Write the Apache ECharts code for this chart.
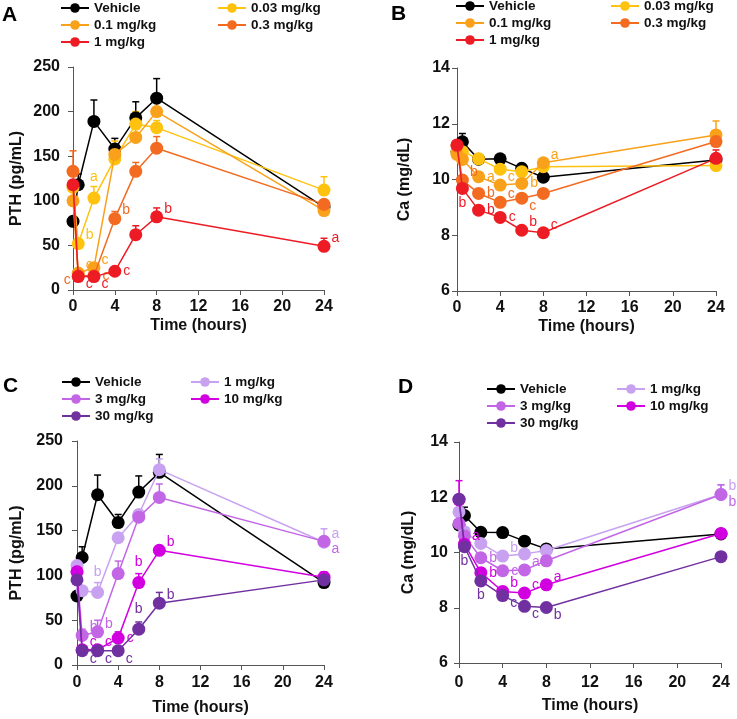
<!DOCTYPE html>
<html><head><meta charset="utf-8">
<script src="https://cdn.jsdelivr.net/npm/echarts@6/dist/echarts.min.js"></script>
<style>html,body{margin:0;padding:0;background:#fff}#c{width:737px;height:719px}</style>
</head><body><div id="c"></div>
<script>
// ---------- DATA ----------
const times = [0, 0.5, 2, 4, 6, 8, 24];

// Panel A: PTH (pg/mL), low doses
const aNames = ['Vehicle', '0.03 mg/kg', '0.1 mg/kg', '0.3 mg/kg', '1 mg/kg'];
const aVehicle = [77, 118, 189, 158, 193, 215, 93];
const aVehicleErr = [0, 12, 24, 12, 18, 22, 4];
const a003 = [115, 52, 103, 147, 186, 182, 112];
const a003Err = [0, 5, 13, 20, 14, 8, 15];
const a01 = [100, 19, 25, 152, 171, 200, 89];
const a01Err = [0, 3, 4, 8, 10, 10, 5];
const a03 = [133, 16, 16, 80, 133, 159, 96];
const a03Err = [23, 2, 2, 8, 10, 13, 5];
const a1 = [118, 15, 15, 21, 62, 82, 49];
const a1Err = [5, 2, 2, 4, 10, 10, 9];
const aVehicleL = ['', '', '', '', '', '', ''];
const a003L = ['', 'b', 'a', '', '', '', ''];
const a01L = ['', 'c', 'c', '', '', '', ''];
const a03L = ['', 'c', 'c', 'b', '', '', ''];
const a1L = ['', 'c', 'c', 'c', '', 'b', 'a'];

// Panel B: Ca (mg/dL), low doses
const bVehicle = [11.0, 11.35, 10.73, 10.74, 10.40, 10.08, 10.7];
const bVehicleErr = [0.1, 0.3, 0.05, 0.05, 0.05, 0.05, 0.1];
const b003 = [11.0, 11.0, 10.74, 10.37, 10.28, 10.46, 10.5];
const b003Err = [0.1, 0.1, 0.05, 0.1, 0.1, 0.1, 0.1];
const b01 = [10.9, 10.72, 10.1, 9.8, 9.86, 10.6, 11.6];
const b01Err = [0.1, 0.1, 0.1, 0.1, 0.1, 0.15, 0.5];
const b03 = [11.2, 9.98, 9.5, 9.18, 9.33, 9.5, 11.36];
const b03Err = [0.1, 0.1, 0.1, 0.1, 0.1, 0.1, 0.2];
const b1 = [11.24, 9.68, 8.9, 8.64, 8.18, 8.09, 10.76];
const b1Err = [0.1, 0.1, 0.1, 0.1, 0.1, 0.1, 0.3];
const bVehicleL = ['', '', '', '', '', '', ''];
const b003L = ['', '', '', '', '', '', ''];
const b01L = ['', '', 'a', 'c', 'b', 'a', ''];
const b03L = ['', 'b', 'b', 'c', 'c', '', ''];
const b1L = ['', 'b', 'b', 'c', 'b', 'c', ''];

// Panel C: PTH (pg/mL), high doses
const cNames = ['Vehicle', '1 mg/kg', '3 mg/kg', '10 mg/kg', '30 mg/kg'];
const cVehicle = [77, 120, 190, 159, 193, 215, 92];
const cVehicleErr = [0, 12, 22, 9, 18, 20, 3];
const c1 = [111, 83, 81, 142, 168, 218, 137];
const c1Err = [3, 3, 11, 4, 5, 12, 15];
const c3 = [104, 33, 37, 102, 165, 187, 138];
const c3Err = [3, 7, 13, 14, 8, 15, 5];
const c10 = [104, 17, 17, 30, 92, 128, 98];
const c10Err = [3, 2, 2, 7, 10, 5, 6];
const c30 = [95, 16, 16, 16, 40, 69, 95];
const c30Err = [3, 2, 2, 2, 8, 12, 3];
const cVehicleL = ['', '', '', '', '', '', ''];
const c1L = ['', '', 'b', '', '', '', 'a'];
const c3L = ['', 'b', 'b', '', '', '', 'a'];
const c10L = ['', 'c', 'c', 'c', 'b', 'b', ''];
const c30L = ['', 'c', 'c', 'c', 'b', 'b', ''];

// Panel D: Ca (mg/dL), high doses
const dVehicle = [11.0, 11.34, 10.73, 10.72, 10.41, 10.13, 10.67];
const dVehicleErr = [0.1, 0.3, 0.05, 0.05, 0.05, 0.05, 0.05];
const d1 = [11.47, 10.75, 10.33, 9.87, 9.95, 10.07, 12.1];
const d1Err = [0.1, 0.1, 0.1, 0.1, 0.1, 0.1, 0.35];
const d3 = [11.05, 10.6, 9.81, 9.34, 9.37, 9.7, 12.1];
const d3Err = [0.1, 0.1, 0.1, 0.1, 0.1, 0.1, 0.35];
const d10 = [11.9, 10.3, 9.27, 8.59, 8.53, 8.83, 10.69];
const d10Err = [0.7, 0.1, 0.1, 0.1, 0.1, 0.1, 0.1];
const d30 = [11.93, 10.21, 8.97, 8.44, 8.05, 8.01, 9.85];
const d30Err = [0.1, 0.1, 0.1, 0.1, 0.1, 0.1, 0.1];
const dVehicleL = ['', '', '', '', '', '', ''];
const d1L = ['', '', '', 'b', '', '', 'b'];
const d3L = ['', '', 'b', 'c', 'a', '', 'b'];
const d10L = ['', 'a', 'b', 'b', 'c', 'a', ''];
const d30L = ['', 'b', 'b', 'c', 'c', 'b', ''];

const xTicks = {min: 0, max: 24, interval: 4};
const pthTicks = {min: 0, max: 250, interval: 50};
const caTicks = {min: 6, max: 14, interval: 2};
const pthTitle = 'PTH (pg/mL)';
const caTitle = 'Ca (mg/dL)';
const xTitle = 'Time (hours)';

// ---------- STYLE / LAYOUT ----------
const FONT = '"Liberation Sans", Arial, sans-serif';
const colorsAB = ['#000000', '#FFC20E', '#F9A11B', '#F26B21', '#ED1C24'];
const colorsCD = ['#000000', '#C8A2F0', '#C266E6', '#D200E0', '#7030A0'];

// letter placement codes (layout only)
const placeA = [[], ['', 'tr', 't'], ['', 'tr', 'tr'], ['', 'l', 'r', 'tr'], ['', 'br', 'br', 'r', '', 'tr', 'tr']];
const placeB = [[], [], ['', '', 'r', 'tr', 'r', 'tr'], ['', 'tr', 'r', 'tr', 'br'], ['', 'b', 'r', 'r', 'tr', 'tr']];
const placeC = [[], ['', '', 't', '', '', '', 'tr'], ['', 'tr', 'tr', '', '', '', 'br'], ['', 'tr', 'tr', 'r', 't', 'tr'], ['', 'br', 'br', 'br', 't', 'tr']];
const placeD = [[], ['', '', '', 'tr', '', '', 'tr'], ['', '', 'r', 'r', 'tr', '', 'br'], ['', 'tr', 'r', 'tr', 'tr', 'tr'], ['', 'b', 'b', 'br', 'br', 'br']];

function labelCfg(code, color) {
  const base = {show: true, color: color, fontFamily: FONT, fontSize: 14, fontWeight: 'normal'};
  switch (code) {
    case 'r': return Object.assign(base, {position: 'right', distance: 2});
    case 'tr': return Object.assign(base, {position: 'right', distance: 1, offset: [0, -8]});
    case 'br': return Object.assign(base, {position: 'right', distance: 1, offset: [0, 8]});
    case 't': return Object.assign(base, {position: 'top', distance: 7});
    case 'b': return Object.assign(base, {position: 'bottom', distance: 1});
    case 'l': return Object.assign(base, {position: 'left', distance: 1, offset: [0, 4]});
  }
  return Object.assign(base, {position: 'right'});
}

const panels = [
  {grid: {left: 73, top: 67, width: 251, height: 223}, y: pthTicks, yName: pthTitle, yMargin: 13, yGap: 48, xMargin: 9, xGap: 28,
   names: aNames, colors: colorsAB, vals: [aVehicle, a003, a01, a03, a1], errs: [aVehicleErr, a003Err, a01Err, a03Err, a1Err],
   letters: [aVehicleL, a003L, a01L, a03L, a1L], place: placeA,
   legendPos: [[60, 8], [217, 8], [60, 25], [217, 25], [60, 42]], tag: 'A', tagPos: [2, 5]},
  {grid: {left: 457, top: 68, width: 259, height: 223}, y: caTicks, yName: caTitle, yMargin: 7, yGap: 44, xMargin: 9, xGap: 28,
   names: aNames, colors: colorsAB, vals: [bVehicle, b003, b01, b03, b1], errs: [bVehicleErr, b003Err, b01Err, b03Err, b1Err],
   letters: [bVehicleL, b003L, b01L, b03L, b1L], place: placeB,
   legendPos: [[455, 6], [610, 6], [455, 23], [610, 23], [455, 40]], tag: 'B', tagPos: [391, 4]},
  {grid: {left: 77, top: 441, width: 247, height: 224}, y: pthTicks, yName: pthTitle, yMargin: 14, yGap: 52, xMargin: 10, xGap: 35,
   names: cNames, colors: colorsCD, vals: [cVehicle, c1, c3, c10, c30], errs: [cVehicleErr, c1Err, c3Err, c10Err, c30Err],
   letters: [cVehicleL, c1L, c3L, c10L, c30L], place: placeC,
   legendPos: [[61, 382], [190, 382], [61, 399], [190, 399], [61, 416]], tag: 'C', tagPos: [3, 376]},
  {grid: {left: 459, top: 442, width: 262, height: 221}, y: caTicks, yName: caTitle, yMargin: 11, yGap: 42, xMargin: 12, xGap: 35,
   names: cNames, colors: colorsCD, vals: [dVehicle, d1, d3, d10, d30], errs: [dVehicleErr, d1Err, d3Err, d10Err, d30Err],
   letters: [dVehicleL, d1L, d3L, d10L, d30L], place: placeD,
   legendPos: [[486, 389], [616, 389], [486, 406], [616, 406], [486, 423]], tag: 'D', tagPos: [398, 377]}
];

const axisLine = {show: true, lineStyle: {color: '#555', width: 1}};
const axisTick = {show: true, inside: false, length: 5, lineStyle: {color: '#555', width: 1}};
const tickFont = {color: '#111', fontFamily: FONT, fontSize: 16, fontWeight: 'bold'};
const nameFont = {color: '#111', fontFamily: FONT, fontSize: 16, fontWeight: 'bold'};

const option = {
  backgroundColor: '#fff',
  animation: false,
  grid: [], xAxis: [], yAxis: [], series: [], legend: [], graphic: []
};

panels.forEach((p, pi) => {
  option.grid.push(Object.assign({containLabel: false}, p.grid));
  option.xAxis.push({
    type: 'value', gridIndex: pi, min: xTicks.min, max: xTicks.max, interval: xTicks.interval,
    axisLine: axisLine, axisTick: axisTick, splitLine: {show: false},
    axisLabel: Object.assign({margin: p.xMargin}, tickFont),
    name: xTitle, nameLocation: 'middle', nameGap: p.xGap, nameTextStyle: nameFont
  });
  option.yAxis.push({
    type: 'value', gridIndex: pi, min: p.y.min, max: p.y.max, interval: p.y.interval,
    axisLine: axisLine, axisTick: axisTick, splitLine: {show: false},
    axisLabel: Object.assign({margin: p.yMargin}, tickFont),
    name: p.yName, nameLocation: 'middle', nameGap: p.yGap, nameTextStyle: nameFont
  });
  const sname = (i) => p.tag + ':' + p.names[i];
  // lines with markers and letters
  p.vals.forEach((vals, si) => {
    const col = p.colors[si];
    const lets = p.letters[si];
    const pl = p.place[si] || [];
    option.series.push({
      type: 'line', name: sname(si), xAxisIndex: pi, yAxisIndex: pi, z: 2 + si,
      symbol: 'circle', symbolSize: 13, color: col,
      lineStyle: {color: col, width: 1.5}, itemStyle: {color: col},
      data: times.map((t, k) => {
        const item = {value: [t, vals[k]]};
        if (lets[k]) item.label = labelCfg(pl[k], col), item.label.formatter = lets[k];
        return item;
      })
    });
  });
  // error bars (upper SEM)
  p.vals.forEach((vals, si) => {
    const col = p.colors[si];
    option.series.push({
      type: 'custom', name: sname(si) + ' SEM', xAxisIndex: pi, yAxisIndex: pi, z: 1,
      data: times.map((t, k) => [t, vals[k], p.errs[si][k]]),
      renderItem: function (params, api) {
        const x = api.value(0), y = api.value(1), e = api.value(2);
        const p0 = api.coord([x, y]);
        const p1 = api.coord([x, y + e]);
        return {type: 'group', children: [
          {type: 'line', shape: {x1: p0[0], y1: p0[1], x2: p1[0], y2: p1[1]}, style: {stroke: col, lineWidth: 1.5}},
          {type: 'line', shape: {x1: p1[0] - 3.5, y1: p1[1], x2: p1[0] + 3.5, y2: p1[1]}, style: {stroke: col, lineWidth: 1.5}}
        ]};
      }
    });
  });
  // legends, one per item
  p.names.forEach((n, si) => {
    option.legend.push({
      data: [sname(si)], left: p.legendPos[si][0], top: p.legendPos[si][1] - 7, padding: 0,
      itemWidth: 28, itemHeight: 12, selectedMode: false,
      formatter: () => n,
      textStyle: {color: '#111', fontFamily: FONT, fontSize: 13.5, fontWeight: 'bold'}
    });
  });
  option.graphic.push({
    type: 'text', left: p.tagPos[0], top: p.tagPos[1],
    style: {text: p.tag, fill: '#000', font: 'bold 21px ' + FONT}
  });
});

const chart = echarts.init(document.getElementById('c'), null, {renderer: 'canvas'});
chart.setOption(option);
</script>
</body></html>
